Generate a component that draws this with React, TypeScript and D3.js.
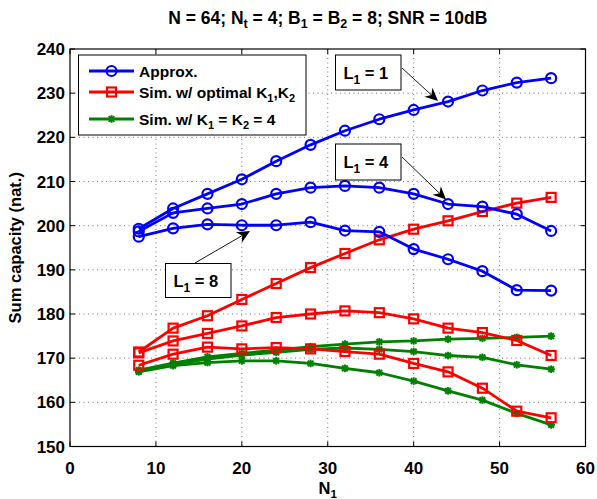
import React from "react";
import * as d3 from "d3";

const N1 = [8, 12, 16, 20, 24, 28, 32, 36, 40, 44, 48, 52, 56];
const approxL1 = [199.3, 203.9, 207.2, 210.5, 214.6, 218.3, 221.5, 224.1, 226.2, 228.1, 230.6, 232.4, 233.4];
const approxL4 = [198.7, 202.9, 203.9, 204.9, 207.2, 208.6, 209.0, 208.6, 207.2, 204.9, 204.3, 202.6, 198.8];
const approxL8 = [197.5, 199.4, 200.3, 200.1, 200.1, 200.8, 198.9, 198.6, 194.7, 192.4, 189.7, 185.4, 185.3];
const simOptL1 = [171.4, 176.8, 179.6, 183.3, 186.9, 190.5, 193.7, 196.8, 199.2, 201.1, 203.2, 205.1, 206.4];
const simOptL4 = [171.2, 173.9, 175.6, 177.3, 179.2, 180.0, 180.7, 180.3, 178.9, 176.8, 175.8, 174.0, 170.6];
const simOptL8 = [168.4, 170.9, 172.5, 172.1, 172.4, 172.1, 171.5, 170.9, 168.8, 166.9, 163.2, 158.0, 156.5];
const simK4L1 = [167.3, 168.9, 170.3, 171.1, 171.8, 172.6, 173.2, 173.7, 173.9, 174.3, 174.5, 174.7, 175.0];
const simK4L4 = [167.1, 168.6, 169.8, 170.7, 171.3, 172.0, 172.3, 172.0, 171.5, 170.6, 170.2, 168.5, 167.5];
const simK4L8 = [166.9, 168.3, 169.0, 169.4, 169.4, 168.8, 167.7, 166.7, 164.8, 162.6, 160.5, 157.5, 154.9];

const xTicks = [0, 10, 20, 30, 40, 50, 60];
const yTicks = [150, 160, 170, 180, 190, 200, 210, 220, 230, 240];

const W = 597, H = 499;
const L = 70, R = 585.5, T = 49, B = 446.5;
const FONT = "'Liberation Sans', Arial, Helvetica, sans-serif";

const x = d3.scaleLinear().domain([0, 60]).range([L, R]);
const y = d3.scaleLinear().domain([150, 240]).range([B, T]);

type Kind = "o" | "s" | "*";
const series: { vals: number[]; color: string; kind: Kind }[] = [
  { vals: simK4L1, color: "#008000", kind: "*" },
  { vals: simK4L4, color: "#008000", kind: "*" },
  { vals: simK4L8, color: "#008000", kind: "*" },
  { vals: simOptL1, color: "#ff0000", kind: "s" },
  { vals: simOptL4, color: "#ff0000", kind: "s" },
  { vals: simOptL8, color: "#ff0000", kind: "s" },
  { vals: approxL1, color: "#0000ff", kind: "o" },
  { vals: approxL4, color: "#0000ff", kind: "o" },
  { vals: approxL8, color: "#0000ff", kind: "o" },
];

function Marker({ cx, cy, kind, color }: { cx: number; cy: number; kind: Kind; color: string }) {
  if (kind === "o") return <circle cx={cx} cy={cy} r={5} fill="none" stroke={color} strokeWidth={2.2} />;
  if (kind === "s") return <rect x={cx - 4.5} y={cy - 4.5} width={9} height={9} fill="none" stroke={color} strokeWidth={2.2} />;
  const s = 3.8;
  return (
    <g stroke={color} strokeWidth={2}>
      <line x1={cx - s} y1={cy} x2={cx + s} y2={cy} />
      <line x1={cx} y1={cy - s} x2={cx} y2={cy + s} />
      <line x1={cx - s * 0.75} y1={cy - s * 0.75} x2={cx + s * 0.75} y2={cy + s * 0.75} />
      <line x1={cx - s * 0.75} y1={cy + s * 0.75} x2={cx + s * 0.75} y2={cy - s * 0.75} />
    </g>
  );
}

function Arrow({ x1, y1, x2, y2 }: { x1: number; y1: number; x2: number; y2: number }) {
  const ang = Math.atan2(y2 - y1, x2 - x1);
  const len = 13, half = 6, back = 4;
  const c = Math.cos(ang), s = Math.sin(ang);
  const p = (a: number, b: number) => [x2 - a * c - b * -s, y2 - a * s - b * c];
  const pA = p(len, half), pB = p(len - back, 0), pC = p(len, -half);
  return (
    <g>
      <line x1={x1} y1={y1} x2={pB[0]} y2={pB[1]} stroke="#000" strokeWidth={0.9} />
      <path d={`M${x2},${y2}L${pA[0]},${pA[1]}L${pB[0]},${pB[1]}L${pC[0]},${pC[1]}Z`} fill="#000" />
    </g>
  );
}

function Label({ bx, by, bw, bh, n }: { bx: number; by: number; bw: number; bh: number; n: string }) {
  return (
    <g>
      <rect x={bx} y={by} width={bw} height={bh} fill="#fff" stroke="#000" strokeWidth={1} />
      <text x={bx + 8} y={by + bh / 2 + 6} fontFamily={FONT} fontWeight="bold" fontSize={16.5}>
        L<tspan fontSize={12} dy={5}>1</tspan><tspan dy={-5}> = {n}</tspan>
      </text>
    </g>
  );
}

export default function App() {
  const line = d3.line<number>().x((_, i) => x(N1[i])).y((d) => y(d));
  const legendItems: { kind: Kind; color: string; label: React.ReactNode; ly: number }[] = [
    { kind: "o", color: "#0000ff", label: "Approx.", ly: 71 },
    {
      kind: "s", color: "#ff0000", ly: 92,
      label: (<>Sim. w/ optimal K<tspan fontSize={11} dy={4}>1</tspan><tspan dy={-4}>,K</tspan><tspan fontSize={11} dy={4}>2</tspan></>),
    },
    {
      kind: "*", color: "#008000", ly: 119,
      label: (<>Sim. w/ K<tspan fontSize={11} dy={4}>1</tspan><tspan dy={-4}> = K</tspan><tspan fontSize={11} dy={4}>2</tspan><tspan dy={-4}> = 4</tspan></>),
    },
  ];
  return (
    <svg width={W} height={H} style={{ position: "absolute", left: 0, top: 0, background: "#fff" }}>
      <rect x={0} y={0} width={W} height={H} fill="#fff" />
      {/* grid */}
      <g stroke="#555" strokeWidth={0.8} strokeDasharray="1,3.5">
        {xTicks.slice(1, -1).map((t) => (
          <line key={"gx" + t} x1={x(t)} x2={x(t)} y1={T} y2={B} />
        ))}
        {yTicks.slice(1, -1).map((t) => (
          <line key={"gy" + t} x1={L} x2={R} y1={y(t)} y2={y(t)} />
        ))}
      </g>
      {/* ticks */}
      <g stroke="#000" strokeWidth={1}>
        {xTicks.map((t) => (
          <g key={"tx" + t}>
            <line x1={x(t)} x2={x(t)} y1={B} y2={B - 5} />
            <line x1={x(t)} x2={x(t)} y1={T} y2={T + 5} />
          </g>
        ))}
        {yTicks.map((t) => (
          <g key={"ty" + t}>
            <line x1={L} x2={L + 5} y1={y(t)} y2={y(t)} />
            <line x1={R} x2={R - 5} y1={y(t)} y2={y(t)} />
          </g>
        ))}
      </g>
      {/* series */}
      {series.map((s, si) => (
        <g key={"s" + si}>
          <path d={line(s.vals) || ""} fill="none" stroke={s.color} strokeWidth={2.8} strokeLinejoin="round" />
          {s.vals.map((v, i) => (
            <Marker key={i} cx={x(N1[i])} cy={y(v)} kind={s.kind} color={s.color} />
          ))}
        </g>
      ))}
      {/* axes box */}
      <rect x={L} y={T} width={R - L} height={B - T} fill="none" stroke="#000" strokeWidth={1.2} />
      {/* tick labels */}
      <g fontFamily={FONT} fontWeight="bold" fontSize={17} fill="#000">
        {xTicks.map((t) => (
          <text key={"lx" + t} x={x(t)} y={B + 27} textAnchor="middle">{t}</text>
        ))}
        {yTicks.map((t) => (
          <text key={"ly" + t} x={L - 5} y={y(t) + 6} textAnchor="end">{t}</text>
        ))}
      </g>
      {/* axis labels */}
      <text x={(L + R) / 2} y={493.5} textAnchor="middle" fontFamily={FONT} fontWeight="bold" fontSize={16.5}>
        N<tspan fontSize={11.5} dy={4}>1</tspan>
      </text>
      <text transform={`translate(21,${(T + B) / 2}) rotate(-90)`} textAnchor="middle" fontFamily={FONT} fontWeight="bold" fontSize={16.5}>
        Sum capacity (nat.)
      </text>
      {/* title */}
      <text x={(L + R) / 2} y={24} textAnchor="middle" fontFamily={FONT} fontWeight="bold" fontSize={17.5}>
        N = 64; N<tspan fontSize={12.5} dy={4}>t</tspan><tspan dy={-4}> = 4; B</tspan><tspan fontSize={12.5} dy={4}>1</tspan><tspan dy={-4}> = B</tspan><tspan fontSize={12.5} dy={4}>2</tspan><tspan dy={-4}> = 8; SNR = 10dB</tspan>
      </text>
      {/* legend */}
      <rect x={78.5} y={55} width={227.5} height={80} fill="#fff" stroke="#000" strokeWidth={1} />
      {legendItems.map((it, i) => (
        <g key={"lg" + i}>
          <line x1={89} x2={134} y1={it.ly} y2={it.ly} stroke={it.color} strokeWidth={2.8} />
          <Marker cx={111.5} cy={it.ly} kind={it.kind} color={it.color} />
          <text x={139} y={it.ly + 5.5} fontFamily={FONT} fontWeight="bold" fontSize={15.5}>{it.label}</text>
        </g>
      ))}
      {/* annotations */}
      <Arrow x1={402} y1={68} x2={438} y2={101} />
      <Arrow x1={402} y1={157} x2={446} y2={199.5} />
      <Arrow x1={195} y1={263} x2={250} y2={231} />
      <Label bx={335.5} by={55} bw={65.5} bh={35} n="1" />
      <Label bx={335.5} by={144} bw={65.5} bh={36} n="4" />
      <Label bx={165.5} by={263.5} bw={65.5} bh={34} n="8" />
    </svg>
  );
}
